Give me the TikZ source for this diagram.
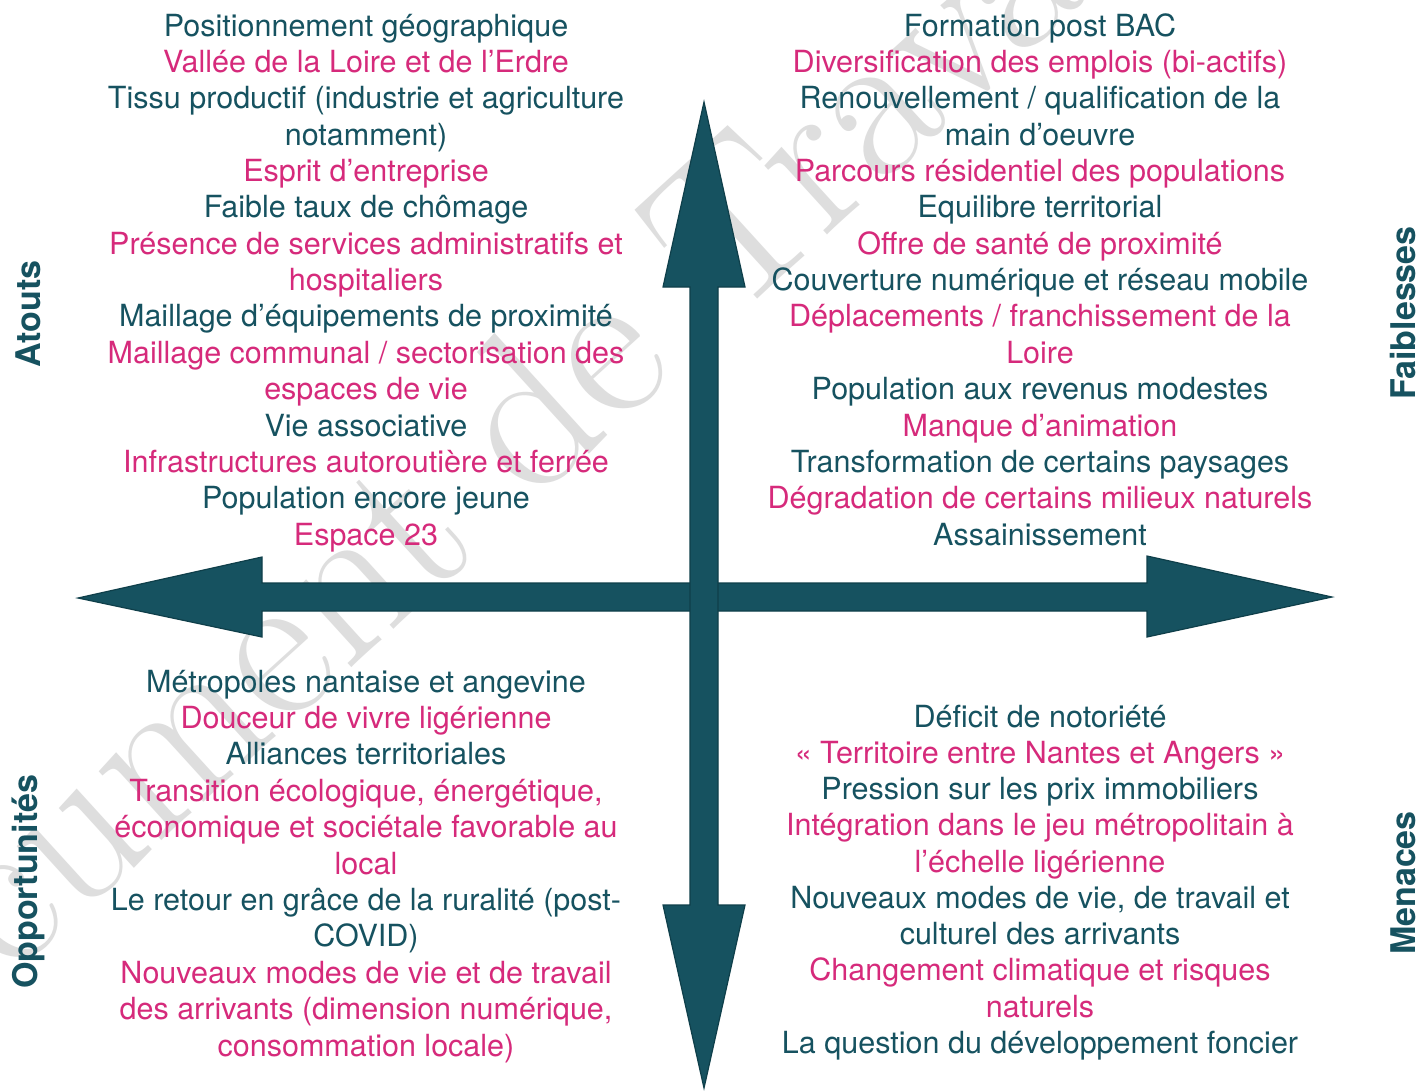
\documentclass[tikz,border=0pt]{standalone}
\usepackage{fontspec}
\newfontfamily\hel{TeX Gyre Heros}
\definecolor{swtTeal}{HTML}{165260}
\definecolor{swtPink}{HTML}{D62A7B}
\definecolor{swtEdge}{HTML}{0F3F4A}
\definecolor{swtWm}{HTML}{DEDEDE}
\begin{document}
\begin{tikzpicture}[x=1pt,y=-1pt,
  itm/.style={anchor=base, inner sep=0pt, font=\hel\fontsize{30.5}{36}\selectfont},
  tl/.style={itm, text=swtTeal},
  pk/.style={itm, text=swtPink},
  side/.style={font=\hel\bfseries\fontsize{34}{40}\selectfont, text=swtTeal, rotate=90, inner sep=0pt},
  arr/.style={fill=swtTeal, draw=swtEdge, line width=1.2pt, line join=miter}]
\useasboundingbox (0,0) rectangle (1419,1090);
\fill[white] (0,0) rectangle (1419,1090);
% watermark
\begin{scope}
\clip (0,0) rectangle (1419,1090);
\node[font=\fontsize{218}{218}\selectfont, text=swtWm, rotate=42.3, inner sep=0pt] (wm) at (445,482) {Document de Travail};
\end{scope}
% arrows
\draw[arr] (78,598) -- (262,557) -- (262,583) -- (1147,583) -- (1147,556) -- (1332,597)
  -- (1147,637) -- (1147,611) -- (262,611) -- (262,637) -- cycle;
\draw[arr] (704,102) -- (745,287) -- (718,287) -- (718,905) -- (745,905) -- (704,1088)
  -- (663,905) -- (690,905) -- (690,287) -- (663,287) -- cycle;
% side labels
\node[side] (atouts) at (28,314) {Atouts};
\node[side] (faib) at (1403,313) {Faiblesses};
\node[side] (opp) at (28,882) {Opportunités};
\node[side] (men) at (1403,883) {Menaces};
% top-left
\node[tl] (a0) at (366,36) {Positionnement géographique};
\node[pk] (a1) at (366,72.4) {Vallée de la Loire et de l’Erdre};
\node[tl] (a2) at (366,108.7) {Tissu productif (industrie et agriculture};
\node[tl] (a3) at (366,145.1) {notamment)};
\node[pk] (a4) at (366,181.4) {Esprit d’entreprise};
\node[tl] (a5) at (366,217.8) {Faible taux de chômage};
\node[pk] (a6) at (366,254.2) {Présence de services administratifs et};
\node[pk] (a7) at (366,290.5) {hospitaliers};
\node[tl] (a8) at (366,326.9) {Maillage d’équipements de proximité};
\node[pk] (a9) at (366,363.2) {Maillage communal / sectorisation des};
\node[pk] (a10) at (366,399.6) {espaces de vie};
\node[tl] (a11) at (366,436.0) {Vie associative};
\node[pk] (a12) at (366,472.3) {Infrastructures autoroutière et ferrée};
\node[tl] (a13) at (366,508.7) {Population encore jeune};
\node[pk] (a14) at (366,545.0) {Espace 23};
% top-right
\node[tl] (f0) at (1040,36) {Formation post BAC};
\node[pk] (f1) at (1040,72.4) {Diversification des emplois (bi-actifs)};
\node[tl] (f2) at (1040,108.7) {Renouvellement / qualification de la};
\node[tl] (f3) at (1040,145.1) {main d’oeuvre};
\node[pk] (f4) at (1040,181.4) {Parcours résidentiel des populations};
\node[tl] (f5) at (1040,217.8) {Equilibre territorial};
\node[pk] (f6) at (1040,254.2) {Offre de santé de proximité};
\node[tl] (f7) at (1040,290.5) {Couverture numérique et réseau mobile};
\node[pk] (f8) at (1040,326.9) {Déplacements / franchissement de la};
\node[pk] (f9) at (1040,363.2) {Loire};
\node[tl] (f10) at (1040,399.6) {Population aux revenus modestes};
\node[pk] (f11) at (1040,436.0) {Manque d’animation};
\node[tl] (f12) at (1040,472.3) {Transformation de certains paysages};
\node[pk] (f13) at (1040,508.7) {Dégradation de certains milieux naturels};
\node[tl] (f14) at (1040,545.0) {Assainissement};
% bottom-left
\node[tl] (o0) at (366,692) {Métropoles nantaise et angevine};
\node[pk] (o1) at (366,728.4) {Douceur de vivre ligérienne};
\node[tl] (o2) at (366,764.8) {Alliances territoriales};
\node[pk] (o3) at (366,801.2) {Transition écologique, énergétique,};
\node[pk] (o4) at (366,837.6) {économique et sociétale favorable au};
\node[pk] (o5) at (366,874) {local};
\node[tl] (o6) at (366,910.4) {Le retour en grâce de la ruralité (post-};
\node[tl] (o7) at (366,946.8) {COVID)};
\node[pk] (o8) at (366,983.2) {Nouveaux modes de vie et de travail};
\node[pk] (o9) at (366,1019.6) {des arrivants (dimension numérique,};
\node[pk] (o10) at (366,1056) {consommation locale)};
% bottom-right
\node[tl] (m0) at (1040,727) {Déficit de notoriété};
\node[pk] (m1) at (1040,763.3) {« Territoire entre Nantes et Angers »};
\node[tl] (m2) at (1040,799.5) {Pression sur les prix immobiliers};
\node[pk] (m3) at (1040,835.8) {Intégration dans le jeu métropolitain à};
\node[pk] (m4) at (1040,872) {l’échelle ligérienne};
\node[tl] (m5) at (1040,908.3) {Nouveaux modes de vie, de travail et};
\node[tl] (m6) at (1040,944.5) {culturel des arrivants};
\node[pk] (m7) at (1040,980.8) {Changement climatique et risques};
\node[pk] (m8) at (1040,1017) {naturels};
\node[tl] (m9) at (1040,1053.3) {La question du développement foncier};
\end{tikzpicture}
\end{document}
